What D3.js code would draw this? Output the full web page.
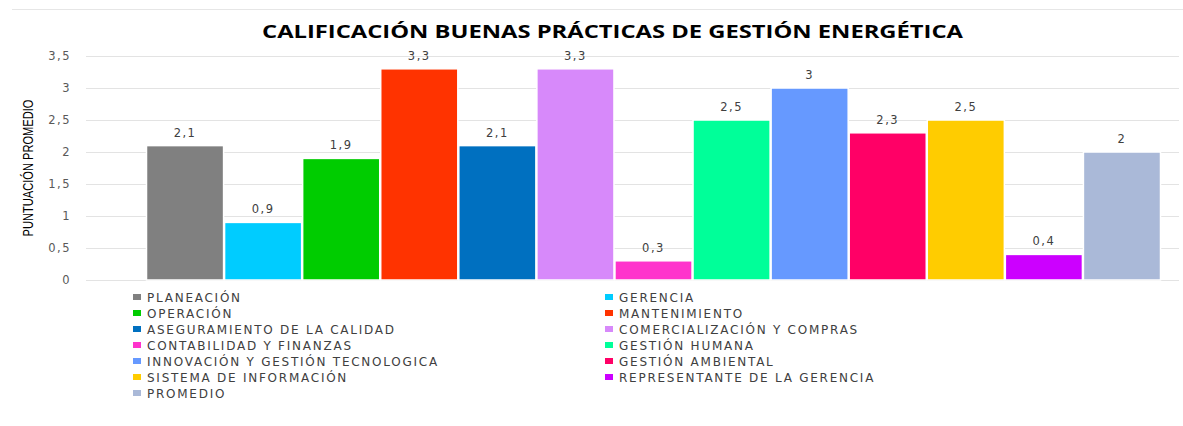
<!DOCTYPE html>
<html><head><meta charset="utf-8">
<script src="https://cdn.jsdelivr.net/npm/d3@7"></script>
<style>body{margin:0;background:#fff}svg{display:block}</style>
</head><body>
<script>
const categories = ["PLANEACIÓN","GERENCIA","OPERACIÓN","MANTENIMIENTO","ASEGURAMIENTO DE LA CALIDAD","COMERCIALIZACIÓN Y COMPRAS","CONTABILIDAD Y FINANZAS","GESTIÓN HUMANA","INNOVACIÓN Y GESTIÓN TECNOLOGICA","GESTIÓN AMBIENTAL","SISTEMA DE INFORMACIÓN","REPRESENTANTE DE LA GERENCIA","PROMEDIO"];
const values = [2.1,0.9,1.9,3.3,2.1,3.3,0.3,2.5,3,2.3,2.5,0.4,2];
const colors = ["#808080","#00CCFF","#00CC00","#FF3300","#0070C0","#D789FA","#FF33CC","#00FF99","#6699FF","#FF0066","#FFCC00","#CC00FF","#AAB9D8"];
const yTicks = [0,0.5,1,1.5,2,2.5,3,3.5];
const title = "CALIFICACIÓN BUENAS PRÁCTICAS DE GESTIÓN ENERGÉTICA";
const yTitle = "PUNTUACIÓN PROMEDIO";

const W=1183,H=426;
const svg=d3.select("body").append("svg").attr("width",W).attr("height",H);
const fmt=v=>String(v).replace(".",",");

svg.append("line").attr("x1",12).attr("x2",W).attr("y1",9.5).attr("y2",9.5).attr("stroke","#E6E6E6");

svg.append("text").attr("x",262).attr("y",38)
  .attr("font-family","'Open Sans',sans-serif").attr("font-weight","bold").attr("font-size",18)
  .attr("textLength",701).attr("lengthAdjust","spacingAndGlyphs")
  .attr("fill","#000").text(title);

const y=d3.scaleLinear().domain([0,3.5]).range([280,56]);
const x=d3.scaleBand().domain(categories).range([146,1161]).paddingInner(0);

const grid=svg.append("g").attr("transform","translate(86,0)")
  .call(d3.axisLeft(y).tickValues(yTicks).tickSize(-1093).tickFormat(""));
grid.select(".domain").remove();
grid.selectAll("line").attr("stroke","#E3E3E3");

const yAxis=svg.append("g").attr("transform","translate(71,0)")
  .call(d3.axisLeft(y).tickValues(yTicks).tickSize(0).tickPadding(0).tickFormat(fmt));
yAxis.select(".domain").remove();
yAxis.selectAll("text").attr("font-family","'DejaVu Sans',sans-serif").attr("font-size",11.5)
  .attr("letter-spacing",1.5).attr("fill","#595959");

svg.append("text").attr("transform","translate(33,168) rotate(-90)").attr("x",-68.5)
  .attr("font-family","'Liberation Sans','Arial',sans-serif").attr("font-size",15)
  .attr("textLength",137).attr("lengthAdjust","spacingAndGlyphs")
  .attr("fill","#000").text(yTitle);

svg.append("g").selectAll("rect").data(categories).join("rect")
  .attr("x",d=>x(d)+0.5).attr("width",x.bandwidth()-1)
  .attr("y",(d,i)=>y(values[i])).attr("height",(d,i)=>y(0)-y(values[i]))
  .attr("fill",(d,i)=>colors[i]).attr("stroke","#fff").attr("stroke-width",1.5);

svg.append("g").selectAll("text").data(categories).join("text")
  .attr("x",d=>x(d)+x.bandwidth()/2).attr("y",(d,i)=>y(values[i])-9)
  .attr("text-anchor","middle").attr("font-family","'DejaVu Sans',sans-serif").attr("font-size",11.5)
  .attr("letter-spacing",1.5).attr("fill","#404040").text((d,i)=>fmt(values[i]));

const leg=svg.append("g");
categories.forEach((c,i)=>{
  const col=i%2,row=Math.floor(i/2);
  const lx=col?605:133, ly=297+row*16;
  leg.append("rect").attr("x",lx).attr("y",ly-3).attr("width",8).attr("height",6).attr("fill",colors[i]);
  leg.append("text").attr("x",lx+14).attr("y",ly+4.5)
    .attr("font-family","'DejaVu Sans',sans-serif").attr("font-size",12).attr("letter-spacing",1.75)
    .attr("fill","#404040").text(c);
});
</script>
</body></html>
